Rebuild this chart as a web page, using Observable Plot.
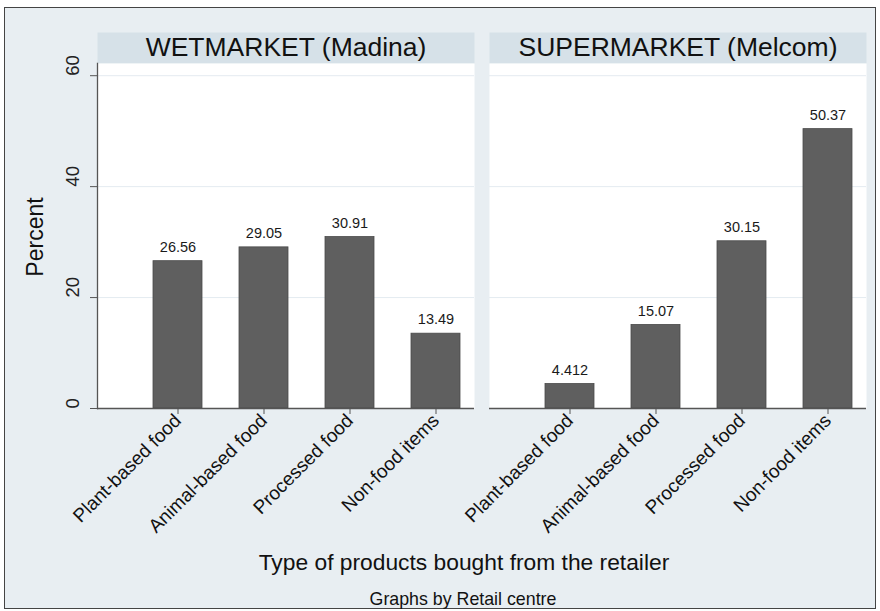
<!DOCTYPE html>
<html>
<head>
<meta charset="utf-8">
<script src="https://cdn.jsdelivr.net/npm/d3@7"></script>
<script src="https://cdn.jsdelivr.net/npm/@observablehq/plot@0.6"></script>
<style>
  body { margin: 0; background: #ffffff; font-family: "Liberation Sans", Arial, sans-serif; }
  #wrap { position: relative; width: 880px; height: 611px; overflow: hidden; }
  #frame { position: absolute; left: 4px; top: 7px; width: 872px; height: 602px; border: 1px solid #444; background: #e8eef2; box-sizing: border-box; }
  #chart { position: absolute; left: 0; top: 0; }
  .lbl { position: absolute; text-align: center; color: #111; white-space: nowrap; }
</style>
</head>
<body>
<div id="wrap">
  <div id="frame"></div>
  <div id="chart"></div>
  <div class="lbl" id="ylab" style="left:-65px; top:225px; width:200px; height:24px; line-height:24px; font-size:23px; transform: rotate(-90deg);">Percent</div>
  <div class="lbl" id="xlab" style="left:164px; top:550px; width:600px; height:24px; line-height:24px; font-size:22.8px;">Type of products bought from the retailer</div>
  <div class="lbl" id="cap" style="left:263px; top:589px; width:400px; height:20px; line-height:20px; font-size:17.8px;">Graphs by Retail centre</div>
</div>
<script>
const panels = ["WETMARKET (Madina)", "SUPERMARKET (Melcom)"];
const categories = ["Plant-based food", "Animal-based food", "Processed food", "Non-food items"];
const wetmarketValues = [26.56, 29.05, 30.91, 13.49];
const supermarketValues = [4.412, 15.07, 30.15, 50.37];
const yTicks = [0, 20, 40, 60];

const data = [
  ...categories.map((c, i) => ({panel: panels[0], category: c, value: wetmarketValues[i]})),
  ...categories.map((c, i) => ({panel: panels[1], category: c, value: supermarketValues[i]}))
];

const chart = Plot.plot({
  width: 880,
  height: 611,
  marginLeft: 96,
  marginRight: 13.5,
  marginTop: 63,
  marginBottom: 203,
  style: {background: "transparent", fontFamily: "'Liberation Sans', Arial, sans-serif", color: "#222"},
  fx: {domain: panels, axis: null, paddingInner: 15 / 392.5, paddingOuter: 0},
  x: {domain: categories, paddingInner: 0.434, paddingOuter: 0.4, align: 0.8},
  y: {domain: [0, 62.2]},
  marks: [
    Plot.frame({fill: "#d6e1e8", insetTop: -31, insetBottom: 345}),
    Plot.frame({fill: "#ffffff"}),
    Plot.ruleY(yTicks.slice(1), {stroke: "#e4ebf0", strokeWidth: 1}),
    Plot.barY(data, {fx: "panel", x: "category", y: "value", fill: "#5f5f5f", stroke: "#4a4a4a", strokeWidth: 0.8}),
    Plot.text(data, {fx: "panel", x: "category", y: "value", text: d => String(d.value), dy: -14, fontSize: 14.5, fill: "#1a1a1a"}),
    Plot.text(panels, {fx: d => d, text: d => d, frameAnchor: "top", lineAnchor: "middle", dy: -16, fontSize: 26.5, fill: "#111"}),
    Plot.ruleY([0], {stroke: "#555", strokeWidth: 1.3}),
    Plot.frame({anchor: "left", fx: () => panels[0], stroke: "#555", strokeWidth: 1.3}),
    Plot.axisY({ticks: yTicks, tickSize: 7, tickFormat: () => "", label: null, stroke: "#555"}),
    Plot.text(yTicks, {y: d => d, fx: () => panels[0], text: d => String(d), frameAnchor: "left", dx: -24, rotate: -90, fontSize: 18.5, fill: "#222"}),
    Plot.axisX({tickRotate: -45, fontSize: 19, tickSize: 6, tickPadding: 3, label: null, stroke: "#555", fill: "#111"})
  ]
});
document.getElementById("chart").appendChild(chart);
</script>
</body>
</html>
